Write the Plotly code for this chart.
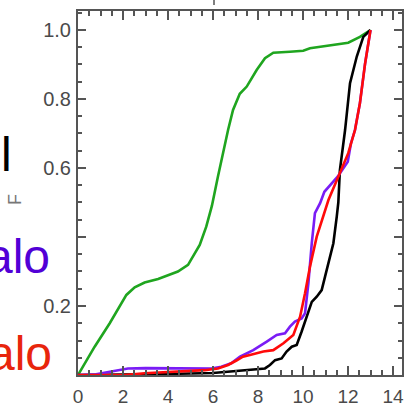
import plotly.graph_objects as go

# ---- data ----
green_x = [0, 0.74, 1.41, 1.85, 2.15, 2.52, 2.96, 3.56, 4.0, 4.44, 4.89, 5.11, 5.41, 5.70, 5.95, 6.22,
           6.44, 6.67, 6.89, 7.19, 7.5, 7.94, 8.31, 8.68, 9.42, 10.01, 10.31, 10.9, 11.5, 12.01, 12.53, 13.0]
green_y = [0, 0.082, 0.15, 0.198, 0.232, 0.254, 0.268, 0.278, 0.29, 0.30, 0.319, 0.343, 0.377, 0.43, 0.49, 0.575,
           0.643, 0.71, 0.768, 0.815, 0.836, 0.884, 0.918, 0.934, 0.937, 0.94, 0.947, 0.952, 0.959, 0.963, 0.98, 1.0]

black_x = [0, 2, 4, 6, 6.5, 7.2, 7.64, 8.31, 8.53, 8.76, 9.05, 9.27, 9.5, 9.72, 9.94, 10.16, 10.39, 10.61,
           10.83, 10.98, 11.13, 11.35, 11.5, 11.57, 11.64, 11.87, 12.09, 12.39, 12.68, 13.0]
black_y = [0, 0.001, 0.003, 0.006, 0.009, 0.012, 0.014, 0.019, 0.029, 0.043, 0.048, 0.068, 0.082, 0.087, 0.126,
           0.169, 0.212, 0.227, 0.246, 0.285, 0.324, 0.382, 0.459, 0.5, 0.594, 0.71, 0.846, 0.923, 0.98, 1.0]

purple_x = [0, 0.8, 1.48, 1.93, 2.22, 3, 4, 5, 5.93, 6.37, 6.81, 7.2, 7.79, 8.39, 8.83, 9.2, 9.42, 9.64, 9.94,
            10.09, 10.24, 10.39, 10.53, 10.76, 10.95, 11.54, 11.99, 12.13, 12.31, 12.53, 12.76, 13.0]
purple_y = [0, 0.002, 0.01, 0.016, 0.019, 0.02, 0.019, 0.019, 0.019, 0.024, 0.034, 0.053, 0.072, 0.097, 0.116,
            0.121, 0.14, 0.155, 0.164, 0.179, 0.266, 0.382, 0.469, 0.498, 0.531, 0.575, 0.618, 0.671, 0.71, 0.788,
            0.903, 1.0]

red_x = [0, 2.07, 2.96, 4.44, 5.63, 6.22, 6.67, 7.04, 7.33, 7.64, 8.24, 8.68, 9.13, 9.57, 9.87, 10.09, 10.31,
         10.61, 10.9, 11.13, 11.54, 12.01, 12.31, 12.53, 12.76, 13.0]
red_y = [0, 0.0, 0.005, 0.01, 0.014, 0.019, 0.029, 0.042, 0.053, 0.058, 0.068, 0.072, 0.092, 0.116, 0.169, 0.237,
         0.314, 0.401, 0.459, 0.507, 0.57, 0.643, 0.71, 0.788, 0.903, 1.0]

x_tickvals = [0, 2, 4, 6, 8, 10, 12, 14]
x_ticktext = ["0", "2", "4", "6", "8", "10", "12", "14"]
y_tickvals = [0, 0.2, 0.4, 0.6, 0.8, 1.0]
y_ticktext = ["", "0.2", "", "0.6", "0.8", "1.0"]

side_texts = ["l", "alo", "alo"]
side_colors = ["#000000", "#5200d6", "#e8250c"]

# ---- figure ----
W, H = 406, 408
ML, MR, MT, MB = 78, 4, 11, 33

fig = go.Figure()
for xs, ys, col in [(green_x, green_y, "#1fa51f"), (black_x, black_y, "#000000"),
                    (purple_x, purple_y, "#7a1cf5"), (red_x, red_y, "#ff0a0a")]:
    fig.add_trace(go.Scatter(x=xs, y=ys, mode="lines", line=dict(color=col, width=2.6),
                             showlegend=False, hoverinfo="skip"))

axis_common = dict(showgrid=False, zeroline=False, showline=True, linecolor="#555555", linewidth=2,
                   mirror="ticks", ticks="inside", tickcolor="#555555", tickwidth=1.5, automargin=False,
                   tickfont=dict(family="Liberation Sans, Arial, sans-serif", color="#4a4a4a"))

fig.update_xaxes(range=[0, 14.4], tickvals=x_tickvals, ticktext=x_ticktext, ticklen=9,
                 tickfont_size=19, ticklabelstandoff=3,
                 minor=dict(dtick=0.5, ticks="inside", ticklen=5, tickcolor="#555555", tickwidth=1.5,
                            showgrid=False),
                 **axis_common)
fig.update_yaxes(range=[0, 1.055], tickvals=y_tickvals, ticktext=y_ticktext, ticklen=8,
                 tickfont_size=20, ticklabelstandoff=1,
                 minor=dict(dtick=0.05, tick0=0, ticks="inside", ticklen=4, tickcolor="#555555", tickwidth=1.5,
                            showgrid=False),
                 **axis_common)

pw = W - ML - MR
ph = H - MT - MB

def px_to_paper_x(px):
    return (px - ML) / pw

def px_to_paper_y(py):
    return (H - MB - py) / ph

# side (clipped) legend texts
side_pos = [(14, 154), (52, 256), (54, 353)]
for t, c, (px, py) in zip(side_texts, side_colors, side_pos):
    fig.add_annotation(text=t, xref="paper", yref="paper", x=px_to_paper_x(px), y=px_to_paper_y(py),
                       xanchor="right", yanchor="middle", showarrow=False,
                       font=dict(family="Liberation Sans, Arial, sans-serif", size=48, color=c))

# y-axis title
fig.add_annotation(text="F", xref="paper", yref="paper", x=px_to_paper_x(15), y=px_to_paper_y(200),
                   xanchor="center", yanchor="middle", showarrow=False, textangle=-90,
                   font=dict(family="Liberation Sans, Arial, sans-serif", size=18, color="#777777"))

# small tick remnant above the frame
fig.add_shape(type="line", xref="paper", yref="paper",
              x0=px_to_paper_x(214), x1=px_to_paper_x(214), y0=px_to_paper_y(0), y1=px_to_paper_y(5),
              line=dict(color="#555555", width=1.5))

fig.update_layout(width=W, height=H, margin=dict(l=ML, r=MR, t=MT, b=MB, pad=0, autoexpand=False),
                  plot_bgcolor="white", paper_bgcolor="white")

fig.write_html("out.html", config={"displayModeBar": False},
               post_script="document.body.style.margin='0';document.body.style.overflow='hidden';")
